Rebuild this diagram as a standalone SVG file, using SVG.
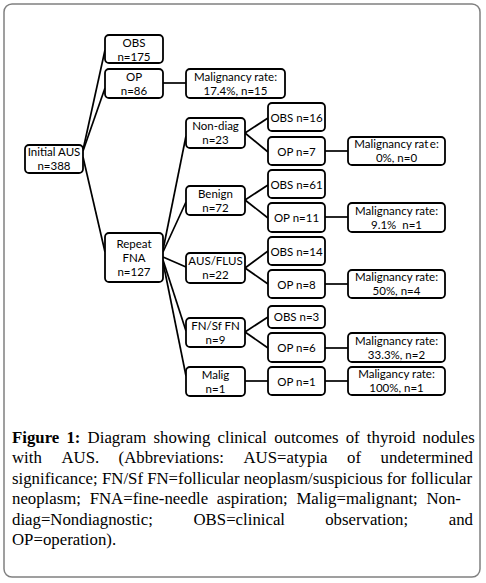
<svg xmlns="http://www.w3.org/2000/svg" width="486" height="583" viewBox="0 0 486 583">
<style>
.frame{fill:#fff;stroke:#808080;stroke-width:1.5}
.box{fill:#fff;stroke:#000;stroke-width:1.8}
.lbl{font-family:Lato,"Liberation Sans",Arial,sans-serif;font-size:11.5px;fill:#000;text-anchor:middle}
.con line{stroke:#000;stroke-width:1.7;fill:none}
.cap{font-family:"Liberation Serif","Times New Roman",serif;font-size:16.8px;fill:#000}
</style>
<rect class="frame" x="4" y="4" width="476" height="573" rx="8"/>
<g class="con">
<line x1="83" y1="150" x2="105" y2="50"/>
<line x1="83" y1="151" x2="105" y2="88"/>
<line x1="83" y1="157" x2="105" y2="252"/>
<line x1="163" y1="83" x2="186" y2="83"/>
<line x1="163" y1="250" x2="186" y2="136"/>
<line x1="163" y1="252" x2="186" y2="202"/>
<line x1="163" y1="257" x2="186" y2="267"/>
<line x1="163" y1="260" x2="186" y2="331"/>
<line x1="163" y1="262" x2="186" y2="376"/>
<line x1="245" y1="133" x2="268" y2="118"/>
<line x1="245" y1="133" x2="268" y2="152"/>
<line x1="245" y1="200" x2="268" y2="185"/>
<line x1="245" y1="200" x2="268" y2="218"/>
<line x1="245" y1="268" x2="268" y2="251"/>
<line x1="245" y1="268" x2="268" y2="284"/>
<line x1="245" y1="332" x2="268" y2="317"/>
<line x1="245" y1="332" x2="268" y2="348"/>
<line x1="245" y1="381" x2="268" y2="381"/>
<line x1="325" y1="151" x2="348" y2="151"/>
<line x1="325" y1="217" x2="348" y2="217"/>
<line x1="325" y1="284" x2="348" y2="284"/>
<line x1="325" y1="348" x2="348" y2="348"/>
<line x1="325" y1="381" x2="348" y2="381"/>
</g>
<g id="initial"><rect class="box" x="25" y="145" width="58" height="28" rx="4"/><text class="lbl" x="54" y="156">Initial AUS</text><text class="lbl" x="54" y="170">n=388</text></g>
<g id="obs175"><rect class="box" x="105" y="35" width="58" height="28" rx="4"/><text class="lbl" x="134" y="46.5">OBS</text><text class="lbl" x="134" y="60.5">n=175</text></g>
<g id="op86"><rect class="box" x="105" y="69" width="58" height="29" rx="4"/><text class="lbl" x="134" y="80.5">OP</text><text class="lbl" x="134" y="94.5">n=86</text></g>
<g id="mal174"><rect class="box" x="186" y="69" width="99" height="29" rx="4"/><text class="lbl" x="235.5" y="80.5">Malignancy rate:</text><text class="lbl" x="235.5" y="94.5">17.4%, n=15</text></g>
<g id="repeat"><rect class="box" x="105" y="233" width="58" height="49" rx="4"/><text class="lbl" x="134" y="247.5">Repeat</text><text class="lbl" x="134" y="261.5">FNA</text><text class="lbl" x="134" y="275.5">n=127</text></g>
<g id="nondiag"><rect class="box" x="186" y="118" width="59" height="30" rx="4"/><text class="lbl" x="215.5" y="130">Non-diag</text><text class="lbl" x="215.5" y="144">n=23</text></g>
<g id="benign"><rect class="box" x="186" y="186" width="59" height="29" rx="4"/><text class="lbl" x="215.5" y="197.5">Benign</text><text class="lbl" x="215.5" y="211.5">n=72</text></g>
<g id="ausflus"><rect class="box" x="186" y="253" width="59" height="30" rx="4"/><text class="lbl" x="215.5" y="265">AUS/FLUS</text><text class="lbl" x="215.5" y="279">n=22</text></g>
<g id="fnsf"><rect class="box" x="186" y="318" width="59" height="29" rx="4"/><text class="lbl" x="215.5" y="329.5">FN/Sf FN</text><text class="lbl" x="215.5" y="343.5">n=9</text></g>
<g id="malig"><rect class="box" x="186" y="367" width="59" height="29" rx="4"/><text class="lbl" x="215.5" y="378.5">Malig</text><text class="lbl" x="215.5" y="392.5">n=1</text></g>
<g id="obs16"><rect class="box" x="268" y="103" width="57" height="28" rx="4"/><text class="lbl" x="296.5" y="121.5">OBS n=16</text></g>
<g id="op7"><rect class="box" x="268" y="137" width="57" height="28" rx="4"/><text class="lbl" x="296.5" y="155.5">OP n=7</text></g>
<g id="obs61"><rect class="box" x="268" y="170" width="57" height="28" rx="4"/><text class="lbl" x="296.5" y="188.5">OBS n=61</text></g>
<g id="op11"><rect class="box" x="268" y="203" width="57" height="29" rx="4"/><text class="lbl" x="296.5" y="222">OP n=11</text></g>
<g id="obs14"><rect class="box" x="268" y="237" width="57" height="28" rx="4"/><text class="lbl" x="296.5" y="255.5">OBS n=14</text></g>
<g id="op8"><rect class="box" x="268" y="270" width="57" height="28" rx="4"/><text class="lbl" x="296.5" y="288.5">OP n=8</text></g>
<g id="obs3"><rect class="box" x="268" y="306" width="57" height="22" rx="4"/><text class="lbl" x="296.5" y="321">OBS n=3</text></g>
<g id="op6"><rect class="box" x="268" y="333" width="57" height="29" rx="4"/><text class="lbl" x="296.5" y="352">OP n=6</text></g>
<g id="op1"><rect class="box" x="268" y="367" width="57" height="28" rx="4"/><text class="lbl" x="296.5" y="385.5">OP n=1</text></g>
<g id="mal0"><rect class="box" x="348" y="137" width="97" height="28" rx="4"/><text class="lbl" x="396.5" y="148">Malignancy rat<tspan dx="1.5">e:</tspan></text><text class="lbl" x="396.5" y="162">0%, n=0</text></g>
<g id="mal91"><rect class="box" x="348" y="203" width="97" height="29" rx="4"/><text class="lbl" x="396.5" y="214.5">Malignancy rate:</text><text class="lbl" x="396.5" y="228.5">9.1%<tspan dx="3"> n=1</tspan></text></g>
<g id="mal50"><rect class="box" x="348" y="270" width="97" height="28" rx="4"/><text class="lbl" x="396.5" y="281">Malignancy rate:</text><text class="lbl" x="396.5" y="295">50%, n=4</text></g>
<g id="mal333"><rect class="box" x="348" y="333" width="97" height="29" rx="4"/><text class="lbl" x="396.5" y="344.5">Malignancy rate:</text><text class="lbl" x="396.5" y="358.5">33.3%, n=2</text></g>
<g id="mal100"><rect class="box" x="348" y="367" width="97" height="28" rx="4"/><text class="lbl" x="396.5" y="378">Maligancy rate:</text><text class="lbl" x="396.5" y="392">100%, n=1</text></g>
<g id="caption">
<text class="cap" x="12" y="443" word-spacing="3"><tspan font-weight="bold">Figure 1:</tspan> Diagram showing clinical outcomes of thyroid nodules</text>
<text class="cap" y="463.4"><tspan x="12">with</tspan><tspan x="61.4">AUS.</tspan><tspan x="118.6">(Abbreviations:</tspan><tspan x="243.5">AUS=atypia</tspan><tspan x="347.1">of</tspan><tspan x="380.6">undetermined</tspan></text>
<text class="cap" x="12" y="483.8">significance; FN/Sf FN=follicular neoplasm/suspicious for follicular</text>
<text class="cap" x="12" y="504.2" word-spacing="4.5">neoplasm; FNA=fine-needle aspiration; Malig=malignant; Non-</text>
<text class="cap" y="524.6"><tspan x="12">diag=Nondiagnostic;</tspan><tspan x="193.5">OBS=clinical</tspan><tspan x="325.2">observation;</tspan><tspan x="448.7">and</tspan></text>
<text class="cap" x="12" y="545">OP=operation).</text>
</g>
</svg>
